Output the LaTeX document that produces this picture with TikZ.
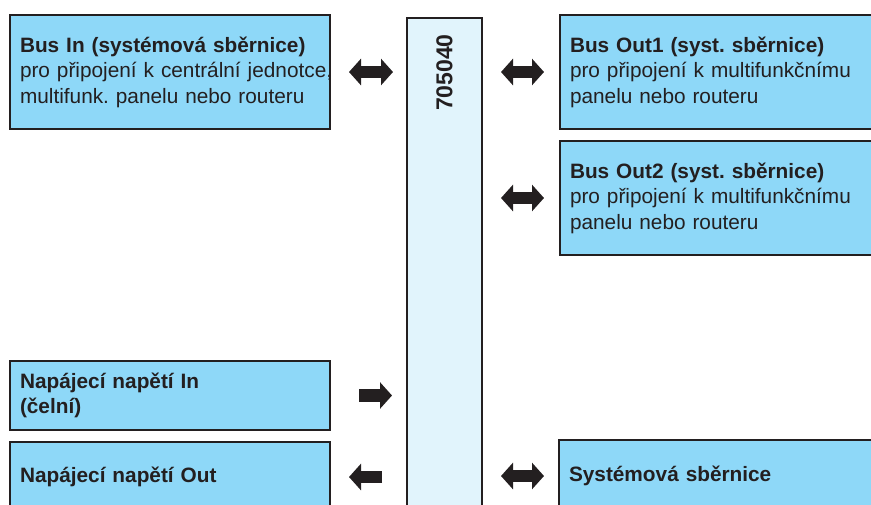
\documentclass[tikz,border=0pt]{standalone}
\usepackage{fontspec}
\setmainfont{Liberation Sans}
\usepackage{tikz}
\usetikzlibrary{arrows.meta, positioning}
\definecolor{boxblue}{HTML}{8ED8F8}
\definecolor{devblue}{HTML}{E1F4FC}
\definecolor{edge}{HTML}{231F20}
\frenchspacing

\begin{document}
\begin{tikzpicture}[x=1pt, y=-1pt,
      box/.style={draw=edge, line width=2pt, fill=boxblue, text=edge,
        align=left, anchor=north west, inner xsep=10pt,
        font=\fontsize{20.8}{25.5}\selectfont},
      blk/.tip={Triangle[width=26pt, length=12pt]},
      dbl/.style={line width=12.5pt, draw=edge, blk-blk},
      one/.style={line width=12.5pt, draw=edge, -blk}]
      \useasboundingbox (0,0) rectangle (871,504);
      \begin{scope}
      \clip (0,0) rectangle (871,504);
      % device column
      \node[draw=edge, line width=2pt, fill=devblue, anchor=north west,
        minimum width=75pt, minimum height=520pt] (dev) at (406,17) {};
      \node[rotate=90, anchor=east, inner sep=0pt, text=edge,
        font=\bfseries\fontsize{23}{23}\selectfont] (devnum) at ([yshift=-17pt]dev.north) {705040};
      % left side
      \node[box, text width=300pt, minimum height=114pt] (busin) at (9,14)
        {\textbf{Bus In (systémová sběrnice)}\\
         \mbox{pro připojení k centrální jednotce,}\\
         multifunk. panelu nebo routeru};
      \node[box, text width=300pt, minimum height=69pt] (napin) at (9,360)
        {\textbf{Napájecí napětí In}\\ \textbf{(čelní)}};
      \node[box, text width=300pt, minimum height=70pt] (napout) at (9,441)
        {\textbf{Napájecí napětí Out}};
      % right side
      \node[box, text width=320pt, minimum height=114pt] (busout1) at (559,14)
        {\textbf{Bus Out1 (syst. sběrnice)}\\
         pro připojení k multifunkčnímu\\
         panelu nebo routeru};
      \node[box, text width=320pt, minimum height=114pt] (busout2) at (559,140)
        {\textbf{Bus Out2 (syst. sběrnice)}\\
         pro připojení k multifunkčnímu\\
         panelu nebo routeru};
      \node[box, text width=320pt, minimum height=72pt] (sysbus) at (558,439)
        {\textbf{Systémová sběrnice}};
      % arrows
      \draw[dbl] ([xshift=18pt]busin.east) -- ([xshift=-13pt]busin.east -| dev.west);
      \draw[dbl] ([xshift=18pt]dev.east |- busout1.west) -- ([xshift=-15pt]busout1.west);
      \draw[dbl] ([xshift=18pt]dev.east |- busout2.west) -- ([xshift=-15pt]busout2.west);
      \draw[one] ([xshift=28pt]napin.east) -- ([xshift=-14pt]napin.east -| dev.west);
      \draw[one] ([xshift=-24pt]napout.east -| dev.west) -- ([xshift=18pt]napout.east);
      \draw[dbl] ([xshift=18pt]dev.east |- sysbus.west) -- ([xshift=-14pt]sysbus.west);
      \end{scope}
\end{tikzpicture}
\end{document}
